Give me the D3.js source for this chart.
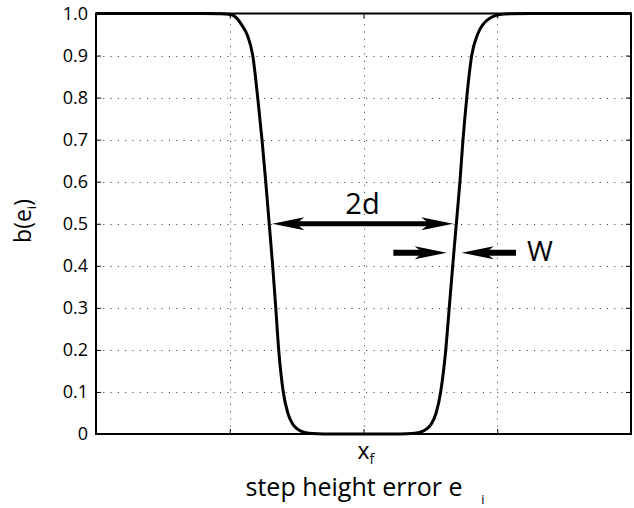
<!DOCTYPE html>
<html>
<head>
<meta charset="utf-8">
<script src="https://cdn.jsdelivr.net/npm/d3@7"></script>
<style>
  html, body { margin: 0; padding: 0; background: #fff; }
  svg { display: block; font-family: "Open Sans", "Noto Sans", sans-serif; }
</style>
</head>
<body>
<svg id="chart" width="634" height="508"></svg>
<script>
// ---- data ----
const xTicks = [-1, 0, 1];
const xTickLabels = ["", "x", ""];           // centre tick carries x_f
const yTicks = [0, 0.1, 0.2, 0.3, 0.4, 0.5, 0.6, 0.7, 0.8, 0.9, 1.0];
const yTickLabels = ["0", "0.1", "0.2", "0.3", "0.4", "0.5", "0.6", "0.7", "0.8", "0.9", "1.0"];

const curveX = [-2.0, -1.2, -1.06, -1.02, -0.985, -0.948, -0.911, -0.869, -0.828, -0.791, -0.759, -0.731,
  -0.705, -0.679, -0.656, -0.634, -0.600, -0.566, -0.532, -0.498, -0.464, -0.43, -0.38, -0.30, -0.15, 0,
  0.15, 0.28, 0.357, 0.407, 0.441, 0.475, 0.509, 0.543, 0.577, 0.615, 0.641, 0.667, 0.694, 0.721, 0.744, 0.772,
  0.809, 0.851, 0.891, 0.946, 1.006, 1.045, 1.09, 1.25, 2.0];
const curveY = [1.0, 1.0, 0.9993, 0.9985, 0.997, 0.989, 0.973, 0.949, 0.9, 0.8, 0.7, 0.6,
  0.5, 0.4, 0.3, 0.2, 0.1, 0.05, 0.025, 0.0125, 0.006, 0.003, 0.001, 0.0002, 0, 0,
  0, 0.0002, 0.001, 0.003, 0.006, 0.0125, 0.025, 0.05, 0.1, 0.2, 0.3, 0.4, 0.5, 0.6, 0.7, 0.8,
  0.9, 0.949, 0.973, 0.989, 0.997, 0.9985, 0.9993, 1.0, 1.0];

// annotation arrows: [fromX, toX, y]  (arrowhead at "to"; double-headed for 2d)
const arrow2d = [-0.682, 0.671, 0.5];
const arrowWLeft = [0.223, 0.622, 0.431];
const arrowWRight = [1.140, 0.734, 0.431];

// ---- layout ----
const svg = d3.select("#chart");
const m = { left: 96, top: 13.5, right: 631, bottom: 434 };
const x = d3.scaleLinear().domain([-2, 2]).range([m.left, m.right]);
const y = d3.scaleLinear().domain([0, 1]).range([m.bottom, m.top]);

// gridlines
const grid = svg.append("g").attr("stroke", "#333").attr("stroke-width", 1)
  .attr("stroke-dasharray", "1,6.3");
grid.selectAll("line.h").data(yTicks.filter(d => d > 0 && d < 1)).join("line")
  .attr("x1", m.left).attr("x2", m.right)
  .attr("y1", d => Math.round(y(d)) + 0.5).attr("y2", d => Math.round(y(d)) + 0.5);
grid.selectAll("line.v").data(xTicks).join("line")
  .attr("y1", m.bottom).attr("y2", m.top)
  .attr("x1", d => Math.round(x(d)) + 0.5).attr("x2", d => Math.round(x(d)) + 0.5);

// axes (inward ticks on all four sides)
const yAxisL = d3.axisLeft(y).tickValues(yTicks).tickSizeInner(-5).tickSizeOuter(0).tickPadding(8)
  .tickFormat((d, i) => yTickLabels[i]);
const gyl = svg.append("g").attr("transform", `translate(${m.left},0)`).call(yAxisL);
gyl.selectAll("text").attr("font-size", 18).attr("fill", "#000")
  .attr("font-family", "Open Sans, sans-serif");
const yAxisR = d3.axisRight(y).tickValues(yTicks).tickSizeInner(-5).tickSizeOuter(0).tickFormat("");
svg.append("g").attr("transform", `translate(${m.right},0)`).call(yAxisR);
const xAxisB = d3.axisBottom(x).tickValues(xTicks).tickSizeInner(-5).tickSizeOuter(0).tickFormat("");
svg.append("g").attr("transform", `translate(0,${m.bottom})`).call(xAxisB);
const xAxisT = d3.axisTop(x).tickValues(xTicks).tickSizeInner(-5).tickSizeOuter(0).tickFormat("");
svg.append("g").attr("transform", `translate(0,${m.top})`).call(xAxisT);
svg.selectAll(".domain").remove();
svg.selectAll(".tick line").attr("stroke", "#000").attr("stroke-width", 1);

// frame
svg.append("rect").attr("x", m.left).attr("y", m.top)
  .attr("width", m.right - m.left).attr("height", m.bottom - m.top)
  .attr("fill", "none").attr("stroke", "#000").attr("stroke-width", 2);

// curve
const pts = curveX.map((d, i) => [d, curveY[i]]);
svg.append("path").datum(pts)
  .attr("fill", "none").attr("stroke", "#000").attr("stroke-width", 3)
  .attr("stroke-linejoin", "round")
  .attr("d", d3.line().x(d => x(d[0])).y(d => y(d[1])).curve(d3.curveMonotoneX));

// arrows
function head(tipX, tipY, dir) { // dir = +1 pointing right, -1 pointing left
  const L = 32, h = 6.5, n = 24;
  return `M${tipX},${tipY} L${tipX - dir * L},${tipY - h} L${tipX - dir * n},${tipY} L${tipX - dir * L},${tipY + h} Z`;
}
const ag = svg.append("g");
function arrow(a, both, sw) {
  const x1 = x(a[0]), x2 = x(a[1]), yy = y(a[2]);
  const dir = x2 > x1 ? 1 : -1;
  ag.append("line").attr("x1", both ? x1 + dir * 22 : x1).attr("x2", x2 - dir * 22)
    .attr("y1", yy).attr("y2", yy).attr("stroke", "#000").attr("stroke-width", sw);
  ag.append("path").attr("d", head(x2, yy, dir)).attr("fill", "#000");
  if (both) ag.append("path").attr("d", head(x1, yy, -dir)).attr("fill", "#000");
}
arrow(arrow2d, true, 5);
arrow(arrowWLeft, false, 6);
arrow(arrowWRight, false, 6);

// annotation labels
svg.append("text").attr("x", x(0) - 1).attr("y", 214).attr("text-anchor", "middle")
  .attr("font-size", 29).text("2d");
svg.append("text").attr("x", 540).attr("y", 261).attr("text-anchor", "middle")
  .attr("font-size", 28).text("W");

// x_f under centre tick
const xf = svg.append("text").attr("x", x(0) - 6).attr("y", 459).attr("font-size", 23);
xf.append("tspan").text(xTickLabels[1]);
xf.append("tspan").attr("dy", 5).attr("font-size", 14).text("f");

// axis labels
svg.append("text").attr("x", 354).attr("y", 496).attr("text-anchor", "middle")
  .attr("font-size", 25).text("step height error e");
svg.append("text").attr("x", 483).attr("y", 504).attr("text-anchor", "middle")
  .attr("font-size", 13).text("i");

const yl = svg.append("text").attr("transform", "translate(31,221) rotate(-90)")
  .attr("text-anchor", "middle").attr("font-size", 23);
yl.append("tspan").text("b(e");
yl.append("tspan").attr("dy", 5).attr("font-size", 13).text("i");
yl.append("tspan").attr("dy", -5).text(")");
</script>
</body>
</html>
